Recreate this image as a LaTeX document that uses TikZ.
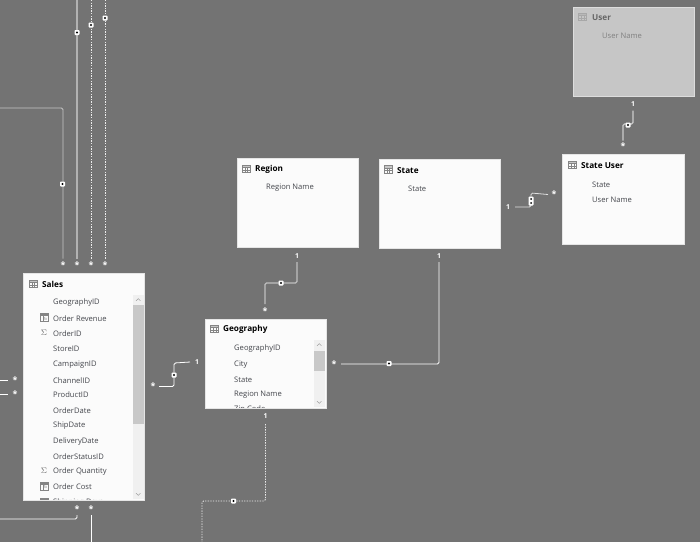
\documentclass[tikz,border=0pt]{standalone}
\usepackage{fontspec}
\setmainfont{Open Sans}
\definecolor{bgc}{HTML}{737373}
\definecolor{cardc}{HTML}{FBFBFB}
\definecolor{dimc}{HTML}{C6C6C6}
\definecolor{rowc}{HTML}{44464C}
\definecolor{trackc}{HTML}{F0F0F0}
\definecolor{thumbc}{HTML}{C8C8C8}
\definecolor{iconc}{HTML}{858585}
\definecolor{dimicon}{HTML}{A8A8A8}
\newlength{\unitpx}\setlength{\unitpx}{1pt}
\tikzset{
  card/.style={draw=#1!60!black!25!white,line width=.7pt,fill=#1,anchor=north west,inner sep=0pt,
    minimum width=121\unitpx,minimum height=89\unitpx},
  ttl/.style={anchor=west,inner sep=0pt,yshift=-.3pt,font=\fontsize{8.2}{9}\selectfont\bfseries,text=black},
  rowt/.style={anchor=west,inner sep=0pt,yshift=-.7pt,font=\fontsize{7.6}{9}\selectfont,text=rowc},
  star/.style={inner sep=0pt,minimum size=5\unitpx,font=\fontsize{9}{9}\selectfont\bfseries,text=white},
  one/.style={inner sep=0pt,minimum size=5\unitpx,font=\fontsize{6.8}{7}\selectfont\bfseries,text=white},
  link/.style={draw=#1,rounded corners=1.5\unitpx,line width=.8pt},
  link/.default=white,
  thick link/.style={draw=#1,rounded corners=1.5\unitpx,line width=1.3pt},
  thick link/.default=black!30,
  dot link/.style={draw=black!8,rounded corners=1.5\unitpx,line width=.75pt,dash pattern=on 1.3pt off 1.3pt},
  handle/.style={draw=none,fill=white,rounded corners=.8pt,minimum size=5\unitpx,inner sep=0pt,
    path picture={\fill[black] (path picture bounding box.center) circle (1.1\unitpx);}},
  handletwo/.style={draw=none,fill=white,rounded corners=.8pt,minimum width=5\unitpx,minimum height=9\unitpx,inner sep=0pt,
    path picture={\fill[black] ([yshift=2\unitpx]path picture bounding box.center) circle (1\unitpx)
      ([yshift=-2\unitpx]path picture bounding box.center) circle (1\unitpx);}},
}
\newcommand{\tblicon}[3][iconc]{%
  \begin{scope}[shift={(#2,#3)},draw=#1,line width=.4pt]
    \fill[#1,opacity=.45] (-4,-4) rectangle (4,-1.8);
    \draw (-4,-4) rectangle (4,3.5) (-4,-1.8)--(4,-1.8) (-4,.8)--(4,.8) (-1.3,-1.8)--(-1.3,3.5) (1.3,-1.8)--(1.3,3.5);
  \end{scope}}
\newcommand{\sumicon}[2]{\node[inner sep=0pt,font=\fontsize{8.5}{8}\selectfont,text=black!60] at (#1,#2) {$\Sigma$};}
\newcommand{\calcicon}[2]{%
  \begin{scope}[shift={(#1,#2)},line width=.4pt]
    \fill[iconc] (-4,-4) rectangle (4,-1.5);
    \draw[iconc] (-4,-4) rectangle (4,4) (-1,-1.5)--(-1,4);
    \node[inner sep=0pt,font=\fontsize{4}{4}\selectfont,text=iconc] at (1.6,1.3) {fx};
  \end{scope}}
\newcommand{\scrollbar}[5]{% x, top, bottom, thumbtop, thumbbottom
  \fill[trackc] (#1,#2) rectangle (#1+10.5,#3);
  \fill[thumbc] (#1,#4) rectangle (#1+10.5,#5);
  \draw[black!45,line width=.35pt] (#1+3,#2+5.8)--(#1+5.2,#2+3.6)--(#1+7.4,#2+5.8);
  \draw[black!45,line width=.35pt] (#1+3,#3-5.8)--(#1+5.2,#3-3.6)--(#1+7.4,#3-5.8);}
\begin{document}
\begin{tikzpicture}[x=1pt,y=-1pt]
\path[fill=bgc] (0,0) rectangle (700,542);
\useasboundingbox (0,0) rectangle (700,542);

% ---- cards
\node[card=cardc,minimum width=121pt,minimum height=227pt] (sales) at (23,273) {};
\node[card=cardc,minimum width=121pt,minimum height=89pt] (geo) at (205,319) {};
\node[card=cardc] (region) at (237,158) {};
\node[card=cardc] (state) at (379,159) {};
\node[card=cardc,minimum width=122pt,minimum height=90pt] (stateuser) at (562,154) {};
\node[card=dimc] (user) at (573,7) {};

% ---- Sales content
\tblicon{33}{284}
\node[ttl] (salesT) at (42,284) {Sales};
\begin{scope}
  \clip (23,295) rectangle (133,499.5);
  \foreach \nm/\t/\yy in {a/GeographyID/302,b/Order Revenue/317.5,c/OrderID/333,d/StoreID/348,e/CampaignID/364,f/ChannelID/379.5,g/ProductID/394,h/OrderDate/409.5,i/ShipDate/425,j/DeliveryDate/440.5,k/OrderStatusID/455.5,l/Order Quantity/471,m/Order Cost/486,n/Shipping Days/501.5}
    \node[rowt] (s\nm) at (53,\yy) {\t};
  \calcicon{44}{317.5}
  \sumicon{44}{333}
  \sumicon{44}{471}
  \calcicon{44}{486}
  \calcicon{44}{502}
\end{scope}
\scrollbar{133}{295}{499}{305}{424}

% ---- Geography content
\tblicon{214.5}{329}
\node[ttl] (geoT) at (223,329.5) {Geography};
\begin{scope}
  \clip (205,340) rectangle (314,407.5);
  \foreach \nm/\t/\yy in {a/GeographyID/348,b/City/363.5,c/State/379,d/Region Name/394,e/Zip Code/409}
    \node[rowt] (g\nm) at (234,\yy) {\t};
\end{scope}
\scrollbar{314}{340}{407}{351}{370.5}

% ---- small cards
\tblicon{246}{169}
\node[ttl] (regionT) at (255,169) {Region};
\node[rowt] (regionA) at (266,187) {Region Name};
\tblicon{388}{169.5}
\node[ttl] (stateT) at (397,170) {State};
\node[rowt] (stateA) at (408,188) {State};
\tblicon{572.5}{165}
\node[ttl] (suT) at (581,165.5) {State User};
\node[rowt] (suA) at (592,184) {State};
\node[rowt] (suB) at (592,199) {User Name};
\tblicon[dimicon]{582.5}{17}
\node[ttl,text=black!60] (userT) at (592,17) {User};
\node[rowt,text=black!50] (userA) at (602,35) {User Name};

% ---- cardinality labels
\foreach \nm/\xx/\yy in {t1/63/265.5,t2/77/265.5,t3/91/265.5,t4/105/265.5,l1/15/380,l2/15/394,b1/77/509,b2/91/509,r1/153/386.5,g1/265/311,g2/334/364,su1/554/194.5,su2/623/146.5}
  \node[star] (\nm) at (\xx,\yy) {*};
\foreach \nm/\xx/\yy in {o1/197/362,o2/297/256,o3/439/256,o4/265.5/416,o5/508/207,o6/633/104.5}
  \node[one] (\nm) at (\xx,\yy) {1};

% ---- free ends
\coordinate (e1) at (0,108);
\coordinate (e2) at (77,0);
\coordinate (e3) at (91,0);
\coordinate (e4) at (105,0);
\coordinate (e5) at (0,380);
\coordinate (e6) at (0,394);
\coordinate (e7) at (0,519);
\coordinate (e8) at (91,542);
\coordinate (e9) at (202,542);

% ---- connectors
\draw[link=black!22] (e1) -| ([yshift=7pt]t1.center);
\draw[thick link] (e2) -- ([yshift=7pt]t2.center);
\draw[dot link] (e3) -- ([yshift=7pt]t3.center);
\draw[dot link] (e4) -- ([yshift=7pt]t4.center);
\draw[link] (e5) -- ([xshift=-7pt]l1.center);
\draw[link] (e6) -- ([xshift=-7pt]l2.center);
\draw[link] (e7) -| ([yshift=-6pt]b1.center);
\draw[link] (e8) -- ([yshift=-6pt]b2.center);
\draw[link] ([xshift=6pt]r1.center) -- (174,386.5) -- (174,363) -- ([xshift=-7pt]o1.center);
\draw[thick link=black!25] ([yshift=7pt]g1.center) -- (265,283) -- (297,283) -- ([yshift=-6pt]o2.center);
\draw[link] ([xshift=7pt]g2.center) -| ([yshift=-6pt]o3.center);
\draw[dot link] ([yshift=-8pt]o4.center) -- (265.5,501) -- (202,501) -- (e9);
\draw[link=black!12] ([xshift=7pt]o5.center) -- (531,207) -- (531,193) -- ([xshift=-6pt]su1.center);
\draw[thick link=black!20] ([yshift=-6pt]o6.center) -- (633,124) -- (623,124) -- ([yshift=6pt]su2.center);

% ---- handles
\node[handle] (h1) at (62.5,184) {};
\node[handle] (h2) at (77,32.5) {};
\node[handle] (h3) at (91,25) {};
\node[handle] (h4) at (105,18) {};
\node[handle] (h5) at (174,375) {};
\node[handle] (h6) at (281,283) {};
\node[handle] (h7) at (389,363.5) {};
\node[handle] (h8) at (233.5,501) {};
\node[handletwo] (h9) at (531,201) {};
\node[handle] (h10) at (628,125) {};
\end{tikzpicture}
\end{document}
